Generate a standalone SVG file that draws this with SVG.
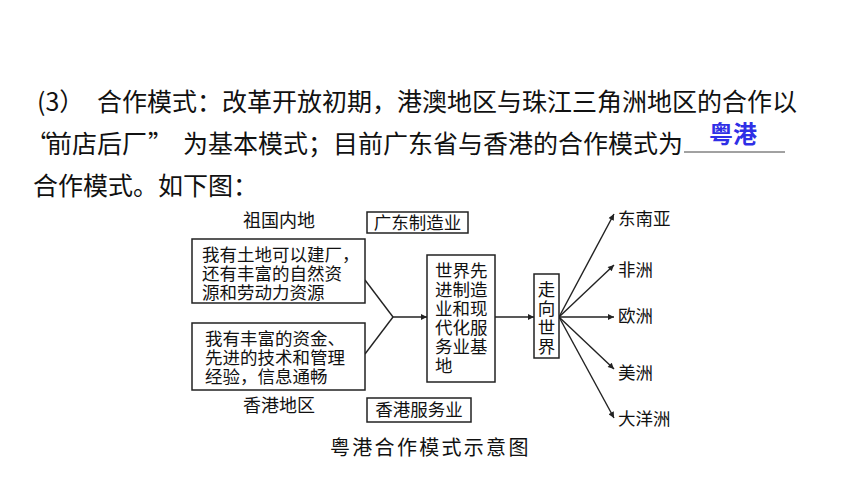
<svg xmlns="http://www.w3.org/2000/svg" width="860" height="484" viewBox="0 0 860 484">
<defs>
<style>
.t{font-family:"Noto Sans CJK SC","Liberation Sans",sans-serif;font-size:25px;fill:#111}
.d{font-family:"Noto Sans CJK SC","Liberation Serif",serif;font-size:17.5px;fill:#111}
.box{fill:#fff;stroke:#222;stroke-width:1.5}
.ln{stroke:#222;stroke-width:1.4;fill:none}
</style>
<marker id="ah" viewBox="0 0 10 10" refX="10" refY="5" markerWidth="9" markerHeight="6" markerUnits="userSpaceOnUse" orient="auto">
<path d="M0,0 L10,5 L0,10 Z" fill="#222"/>
</marker>
</defs>
<rect width="860" height="484" fill="#fff"/>

<g id="paragraph">
<text class="t" y="111"><tspan x="37">(3）</tspan><tspan x="97">合作模式：改革开放初期，港澳地区与珠江三角洲地区的合作以</tspan></text>
<text class="t" y="153"><tspan x="26">“</tspan><tspan x="47">前店后厂</tspan><tspan x="148">”</tspan><tspan x="183">为基本模式；目前广东省与香港的合作模式为</tspan></text>
<line x1="684" y1="152" x2="785" y2="152" stroke="#444" stroke-width="1"/>
<text x="709" y="143" style="font-family:'Noto Sans CJK SC','Liberation Sans',sans-serif;font-size:24px;font-weight:bold;fill:#2f2fe6">粤港</text>
<text class="t" x="33" y="195">合作模式。如下图：</text>
</g>

<g id="connectors">
<line class="ln" x1="365" y1="280" x2="393" y2="317"/>
<line class="ln" x1="365" y1="354" x2="393" y2="317"/>
<line class="ln" x1="393" y1="317" x2="427" y2="317" marker-end="url(#ah)"/>
<line class="ln" x1="495" y1="317" x2="534" y2="317" marker-end="url(#ah)"/>
<line class="ln" x1="559" y1="317" x2="614" y2="214" marker-end="url(#ah)"/>
<line class="ln" x1="559" y1="317" x2="614" y2="265" marker-end="url(#ah)"/>
<line class="ln" x1="559" y1="317" x2="614" y2="317" marker-end="url(#ah)"/>
<line class="ln" x1="559" y1="317" x2="614" y2="369" marker-end="url(#ah)"/>
<line class="ln" x1="559" y1="317" x2="614" y2="418" marker-end="url(#ah)"/>
</g>

<g id="label-mainland"><text class="d" x="243" y="227" style="font-size:18px">祖国内地</text></g>
<g id="label-hk"><text class="d" x="243" y="412" style="font-size:18px">香港地区</text></g>

<g id="node-gd">
<rect class="box" x="367" y="212" width="101" height="21"/>
<text class="d" x="417.5" y="229" text-anchor="middle">广东制造业</text>
</g>
<g id="node-hksvc">
<rect class="box" x="367" y="398" width="104" height="24"/>
<text class="d" x="419" y="416" text-anchor="middle">香港服务业</text>
</g>

<g id="node-mainland">
<rect class="box" x="192" y="239" width="173" height="64"/>
<text class="d"><tspan x="202" y="261">我有土地可以建厂，</tspan><tspan x="202" y="280">还有丰富的自然资</tspan><tspan x="202" y="299">源和劳动力资源</tspan></text>
</g>

<g id="node-hongkong">
<rect class="box" x="192" y="323" width="173" height="67"/>
<text class="d"><tspan x="205" y="345">我有丰富的资金、</tspan><tspan x="205" y="364">先进的技术和管理</tspan><tspan x="205" y="383">经验，信息通畅</tspan></text>
</g>

<g id="node-base">
<rect class="box" x="427" y="255" width="68" height="127"/>
<text class="d"><tspan x="435" y="277">世界先</tspan><tspan x="435" y="296">进制造</tspan><tspan x="435" y="315">业和现</tspan><tspan x="435" y="334">代化服</tspan><tspan x="435" y="353">务业基</tspan><tspan x="435" y="372">地</tspan></text>
</g>

<g id="node-world">
<rect class="box" x="534" y="274" width="25" height="84"/>
<text class="d" text-anchor="middle"><tspan x="546.5" y="296">走</tspan><tspan x="546.5" y="315">向</tspan><tspan x="546.5" y="334">世</tspan><tspan x="546.5" y="353">界</tspan></text>
</g>

<g id="node-sea"><text class="d" x="618" y="225">东南亚</text></g>
<g id="node-africa"><text class="d" x="618" y="276">非洲</text></g>
<g id="node-europe"><text class="d" x="618" y="322">欧洲</text></g>
<g id="node-america"><text class="d" x="618" y="379">美洲</text></g>
<g id="node-oceania"><text class="d" x="618" y="425">大洋洲</text></g>

<g id="caption">
<text class="d" x="330" y="455" style="font-size:20px;letter-spacing:2.3px">粤港合作模式示意图</text>
</g>
</svg>
